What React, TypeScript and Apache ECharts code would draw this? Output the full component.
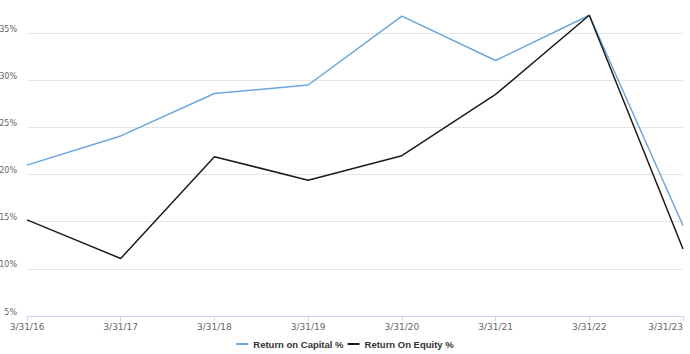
import React, { useEffect, useRef } from "react";
import * as echarts from "echarts";

const categories = ["3/31/16", "3/31/17", "3/31/18", "3/31/19", "3/31/20", "3/31/21", "3/31/22", "3/31/23"];
const returnOnCapital = [21.0, 24.1, 28.6, 29.5, 36.8, 32.1, 36.9, 14.6];
const returnOnEquity = [15.2, 11.1, 21.9, 19.4, 22.0, 28.5, 36.9, 12.1];
const seriesNames = ["Return on Capital %", "Return On Equity %"];

export default function App() {
  const ref = useRef<HTMLDivElement>(null);
  useEffect(() => {
    if (!ref.current) return;
    const chart = echarts.init(ref.current, undefined, { renderer: "svg" });
    chart.setOption({
      animation: false,
      textStyle: { fontFamily: "DejaVu Sans" },
      grid: { left: 27, right: 7, top: -14, bottom: 38, containLabel: false, outerBoundsMode: "none" },
      legend: {
        bottom: 0,
        left: "center",
        icon: "rect",
        itemWidth: 12,
        itemHeight: 2,
        itemGap: 4,
        textStyle: { fontSize: 9.5, fontWeight: "bold", color: "#333", fontFamily: "Liberation Sans" },
        data: seriesNames,
      },
      xAxis: {
        type: "category",
        data: categories,
        boundaryGap: false,
        axisLine: { lineStyle: { color: "#ccd6eb" } },
        axisTick: { show: true, length: 5, lineStyle: { color: "#ccd6eb" }, alignWithLabel: true },
        axisLabel: {
          color: "#666",
          fontSize: 9,
          margin: 6,
          showMinLabel: true,
          showMaxLabel: true,
          interval: 0,
          hideOverlap: false,
          alignMaxLabel: "right",
        },
        splitLine: { show: false },
      },
      yAxis: {
        type: "value",
        min: 5,
        max: 40,
        interval: 5,
        axisLine: { show: false },
        axisTick: { show: false },
        axisLabel: {
          color: "#666",
          fontSize: 8,
          margin: 10,
          verticalAlign: "bottom",
          showMaxLabel: false,
          formatter: (v: number) => v + "%",
        },
        splitLine: { lineStyle: { color: "#e6e6e6" } },
      },
      series: [
        {
          name: seriesNames[0],
          type: "line",
          data: returnOnCapital,
          symbol: "none",
          lineStyle: { color: "#6ba6dc", width: 1.5 },
          itemStyle: { color: "#6ba6dc" },
        },
        {
          name: seriesNames[1],
          type: "line",
          data: returnOnEquity,
          symbol: "none",
          lineStyle: { color: "#1c1c1c", width: 1.5 },
          itemStyle: { color: "#1c1c1c" },
        },
      ],
    });
    return () => chart.dispose();
  }, []);
  return <div ref={ref} style={{ width: 690, height: 354, position: "absolute", left: 0, top: 0 }} />;
}
